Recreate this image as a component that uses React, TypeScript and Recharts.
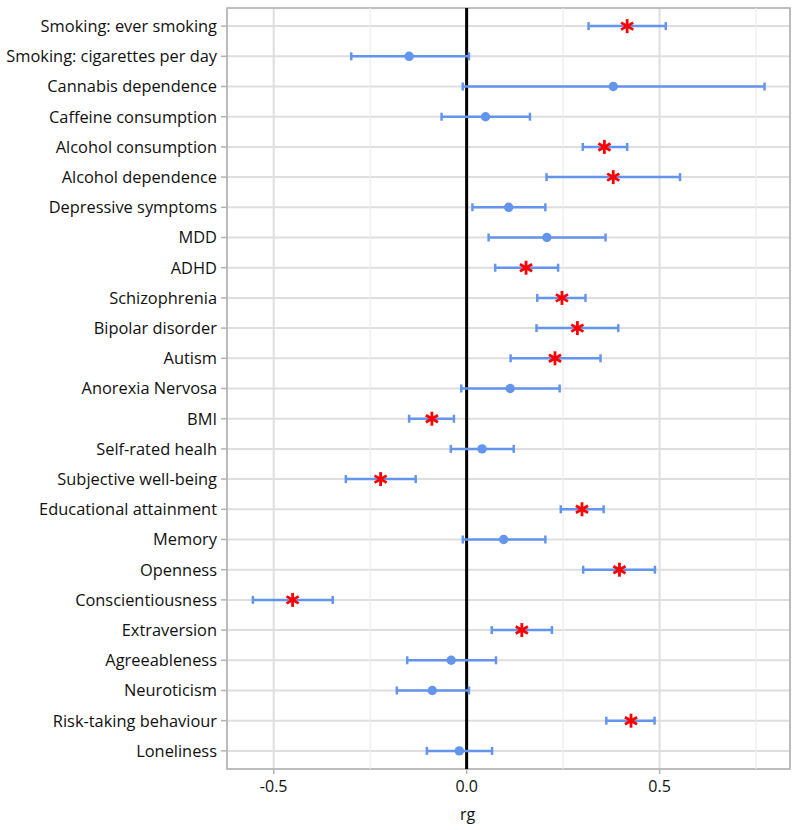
import React from 'react';
import {
  ScatterChart,
  Scatter,
  XAxis,
  YAxis,
  CartesianGrid,
  ReferenceLine,
  ReferenceArea,
  ErrorBar,
} from 'recharts';

const traits = [
  'Smoking: ever smoking',
  'Smoking: cigarettes per day',
  'Cannabis dependence',
  'Caffeine consumption',
  'Alcohol consumption',
  'Alcohol dependence',
  'Depressive symptoms',
  'MDD',
  'ADHD',
  'Schizophrenia',
  'Bipolar disorder',
  'Autism',
  'Anorexia Nervosa',
  'BMI',
  'Self-rated healh',
  'Subjective well-being',
  'Educational attainment',
  'Memory',
  'Openness',
  'Conscientiousness',
  'Extraversion',
  'Agreeableness',
  'Neuroticism',
  'Risk-taking behaviour',
  'Loneliness',
];

const rgValues = [
  0.416, -0.149, 0.38, 0.049, 0.357, 0.38, 0.109, 0.208, 0.154, 0.247, 0.287, 0.229,
  0.113, -0.09, 0.04, -0.223, 0.299, 0.096, 0.396, -0.451, 0.143, -0.04, -0.089, 0.426,
  -0.019,
];

const lowerCI = [
  0.316, -0.299, -0.01, -0.065, 0.301, 0.207, 0.015, 0.057, 0.074, 0.183, 0.181, 0.114,
  -0.014, -0.149, -0.041, -0.313, 0.244, -0.01, 0.302, -0.554, 0.065, -0.154, -0.181, 0.362,
  -0.103,
];

const upperCI = [
  0.516, 0.006, 0.772, 0.164, 0.416, 0.553, 0.204, 0.36, 0.237, 0.308, 0.393, 0.347,
  0.241, -0.033, 0.122, -0.132, 0.355, 0.204, 0.488, -0.347, 0.221, 0.076, 0.006, 0.487,
  0.066,
];

const significant = [
  true, false, false, false, true, true, false, false, true, true, true, true,
  false, true, false, true, true, false, true, true, true, false, false, true,
  false,
];

const xTicks = [-0.5, 0, 0.5];
const minorTicks = [-0.25, 0.25, 0.75];
const yTicks = traits.map((_, i) => i);

const rows = traits.map((t, i) => ({
  trait: t,
  idx: i,
  rg: rgValues[i],
  err: [rgValues[i] - lowerCI[i], upperCI[i] - rgValues[i]],
}));
const sigRows = rows.filter((_, i) => significant[i]);
const nsRows = rows.filter((_, i) => !significant[i]);

const BLUE = '#6495ED';
const FONT = '"Open Sans", sans-serif';

const Star = (props: any) => {
  const { cx, cy } = props;
  if (cx == null || cy == null) return null;
  const r = 7;
  const a = Math.cos(Math.PI / 6) * r;
  const b = Math.sin(Math.PI / 6) * r;
  return (
    <g stroke="#ff0000" strokeWidth={2.8} strokeLinecap="butt">
      <line x1={cx} y1={cy - r} x2={cx} y2={cy + r} />
      <line x1={cx - a} y1={cy - b} x2={cx + a} y2={cy + b} />
      <line x1={cx - a} y1={cy + b} x2={cx + a} y2={cy - b} />
    </g>
  );
};

const Dot = (props: any) => {
  const { cx, cy } = props;
  if (cx == null || cy == null) return null;
  return <circle cx={cx} cy={cy} r={4.7} fill={BLUE} />;
};

export default function App() {
  return (
    <div style={{ position: 'absolute', left: 0, top: 0 }}>
      <ScatterChart
        width={800}
        height={830}
        margin={{ top: 8, right: 10, bottom: 0, left: 0 }}
      >
        <CartesianGrid stroke="#dedede" strokeWidth={2} />
        {minorTicks.map((m) => (
          <ReferenceLine key={m} x={m} stroke="#ececec" strokeWidth={1.2} />
        ))}
        <XAxis
          type="number"
          dataKey="rg"
          domain={[-0.621, 0.838]}
          allowDataOverflow
          ticks={xTicks}
          tickFormatter={(v: number) => v.toFixed(1)}
          height={61}
          axisLine={false}
          tickLine={{ stroke: '#b3b3b3', strokeWidth: 1.5 }}
          tickSize={5}
          tickMargin={7}
          tick={{ fontSize: 16, fill: '#111', fontFamily: FONT }}
          label={{
            value: 'rg',
            position: 'insideBottom',
            offset: 10,
            dx: -41,
            fontSize: 16,
            fill: '#111',
            fontFamily: FONT,
          }}
        />
        <YAxis
          type="number"
          dataKey="idx"
          domain={[-0.6, 24.6]}
          allowDataOverflow
          reversed
          ticks={yTicks}
          interval={0}
          tickFormatter={(v: number) => traits[v] ?? ''}
          width={227}
          axisLine={false}
          tickLine={{ stroke: '#b3b3b3', strokeWidth: 1.5 }}
          tickSize={6}
          tickMargin={4}
          tick={{ fontSize: 16.4, fill: '#111', fontFamily: FONT }}
        />
        <ReferenceArea
          x1={-0.621}
          x2={0.838}
          y1={-0.6}
          y2={24.6}
          fill="none"
          stroke="#b3b3b3"
          strokeWidth={1.6}
          ifOverflow="visible"
        />
        <ReferenceLine x={0} stroke="#000000" strokeWidth={3} />
        <Scatter data={nsRows} shape={<Dot />} isAnimationActive={false}>
          <ErrorBar
            dataKey="err"
            direction="x"
            width={4}
            stroke={BLUE}
            strokeWidth={2.5}
            isAnimationActive={false}
          />
        </Scatter>
        <Scatter data={sigRows} shape={<Star />} isAnimationActive={false}>
          <ErrorBar
            dataKey="err"
            direction="x"
            width={4}
            stroke={BLUE}
            strokeWidth={2.5}
            isAnimationActive={false}
          />
        </Scatter>
      </ScatterChart>
    </div>
  );
}
